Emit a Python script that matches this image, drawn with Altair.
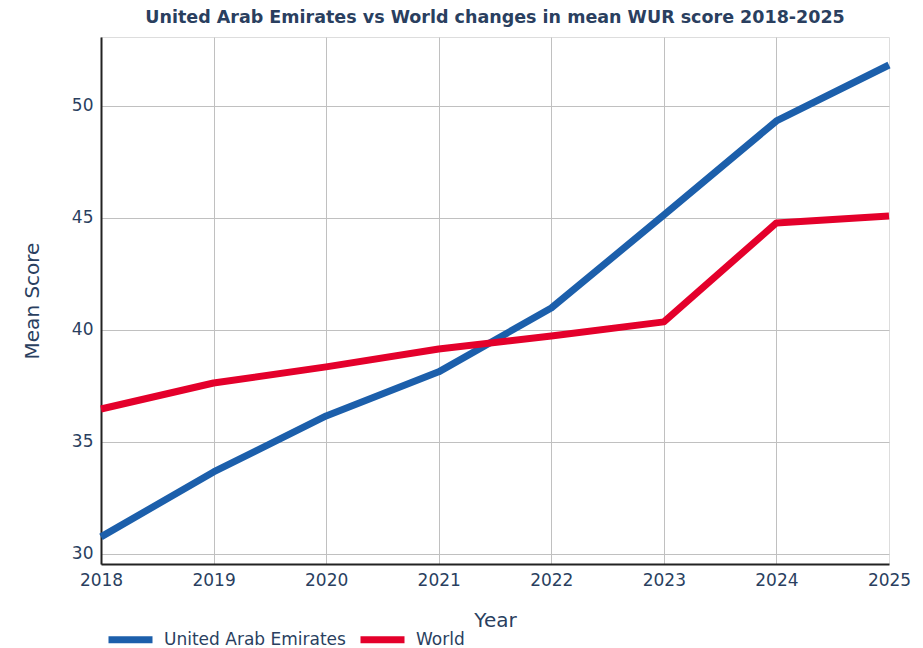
import altair as alt
import pandas as pd

years = [2018, 2019, 2020, 2021, 2022, 2023, 2024, 2025]
uae = [30.76, 33.66, 36.16, 38.13, 40.98, 45.13, 49.33, 51.83]
world = [36.47, 37.63, 38.35, 39.15, 39.73, 40.36, 44.78, 45.09]
series = ["United Arab Emirates", "World"]
colors = ["#1c5fab", "#e4002b"]
y_ticks = [30, 35, 40, 45, 50]

rows = []
for name, vals in zip(series, [uae, world]):
    for yr, v in zip(years, vals):
        rows.append({"Year": yr, "Score": v, "Country": name})
df = pd.DataFrame(rows)

TXT = "#2a3f5f"
FONT = "DejaVu Sans"

chart = alt.Chart(df).mark_line(strokeWidth=7, strokeCap="butt", strokeJoin="round").encode(
    x=alt.X("Year:Q",
            scale=alt.Scale(domain=[2018, 2025], nice=False, zero=False),
            axis=alt.Axis(values=years, format="d", title="Year", grid=True,
                          gridColor="#c0c0c0", gridWidth=1,
                          gridOpacity=alt.ExprRef("datum.value == 2025 ? 0 : 1"),
                          domainColor="#222222", domainWidth=2, ticks=False,
                          labelFontSize=17, labelColor=TXT, labelFont=FONT,
                          labelPadding=8, labelFlush=False,
                          titleFontSize=20, titleColor=TXT, titleFont=FONT,
                          titleFontWeight="normal", titlePadding=22)),
    y=alt.Y("Score:Q",
            scale=alt.Scale(domain=[29.55, 53.08], nice=False, zero=False),
            axis=alt.Axis(values=y_ticks, title="Mean Score", grid=True,
                          gridColor="#c0c0c0", gridWidth=1,
                          domainColor="#222222", domainWidth=2, ticks=False,
                          labelFontSize=17, labelColor=TXT, labelFont=FONT,
                          labelPadding=8,
                          titleFontSize=20, titleColor=TXT, titleFont=FONT,
                          titleFontWeight="normal", titlePadding=29)),
    color=alt.Color("Country:N",
                    scale=alt.Scale(domain=series, range=colors),
                    legend=alt.Legend(title=None, orient="none", direction="horizontal",
                                      legendX=4, legendY=577,
                                      symbolType="stroke", symbolSize=1936,
                                      symbolStrokeWidth=7, labelFontSize=17,
                                      labelColor=TXT, labelFont=FONT, labelLimit=400,
                                      labelOffset=8, columnPadding=0)),
    order=alt.Order("Year:Q"),
).properties(
    width=788,
    height=527,
    title=alt.TitleParams("United Arab Emirates vs World changes in mean WUR score 2018-2025",
                          fontSize=17.5, font=FONT, fontWeight="bold", color=TXT,
                          anchor="middle", offset=11),
    autosize=alt.AutoSizeParams(type="none"),
    padding={"left": 93, "top": 29, "right": 26, "bottom": 84},
).configure_view(stroke=None).configure(background="white")

chart.save("out.html", embed_options={"renderer": "svg", "actions": False})
